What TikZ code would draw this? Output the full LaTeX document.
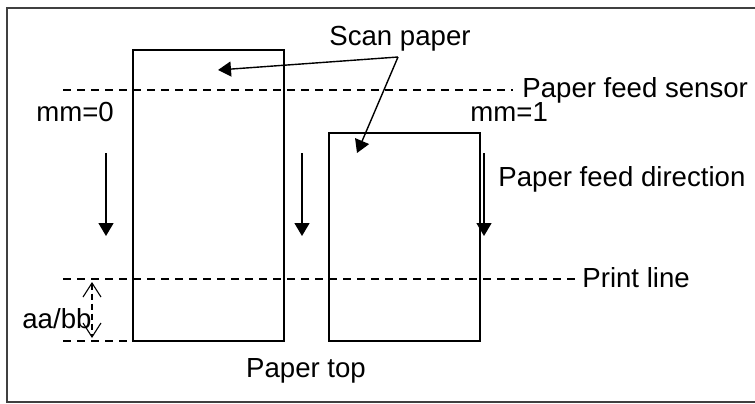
\documentclass[tikz,border=0pt]{standalone}
\usepackage{fontspec}
\setmainfont{Liberation Sans}
\usetikzlibrary{arrows.meta}
\begin{document}
\begin{tikzpicture}[x=0.5pt,y=-0.5pt,
    lbl/.style={inner sep=0pt,font=\fontsize{13.8}{16}\selectfont},
    sheet/.style={draw,line width=0.8pt},
    guide/.style={line width=0.65pt,dash pattern=on 4pt off 3pt},
    feed/.style={-{Triangle[length=6.5pt,width=7.5pt]},line width=0.7pt},
    gap/.style={{Straight Barb[length=7pt,width=9pt]}-{Straight Barb[length=7pt,width=9pt]},line width=0.55pt,dash pattern=on 3pt off 2pt}]
  \useasboundingbox (0,0) rectangle (755,403);
  \draw[black!75,line width=0.7pt] (755,8) -- (7,8) -- (7,402) -- (755,402);
  \draw[sheet] (133,50) rectangle (284,341);
  \draw[sheet] (329,133) rectangle (480,341);
  \node[lbl,anchor=base] (scan) at (400,45) {Scan paper};
  \node[lbl,anchor=base west] (mm0) at (36,121) {mm=0};
  \node[lbl,anchor=base west] (mm1) at (470,121) {mm=1};
  \node[lbl,anchor=base west] (sensor) at (522,97) {Paper feed sensor};
  \node[lbl,anchor=base west] (direction) at (498,186) {Paper feed direction};
  \node[lbl,anchor=base west] (print) at (582,287) {Print line};
  \node[lbl,anchor=base west] (gaplbl) at (22,328) {aa/bb};
  \node[lbl,anchor=base] (top) at (306,377) {Paper top};
  \coordinate (fork) at (398,57);
  \coordinate (tipA) at (218,70);
  \coordinate (tipB) at (357,153);
  \draw[feed] (fork) -- (tipA);
  \draw[feed] (fork) -- (tipB);
  \draw[guide] (63,90) -- (513,90);
  \draw[guide] (63,279) -- (575,279);
  \draw[guide] (63,341) -- (133,341);
  \draw[feed] (106,153) -- (106,236);
  \draw[feed] (302,153) -- (302,236);
  \draw[feed] (484,153) -- (484,236);
  \draw[gap] (92,282) -- (92,338);
\end{tikzpicture}
\end{document}
